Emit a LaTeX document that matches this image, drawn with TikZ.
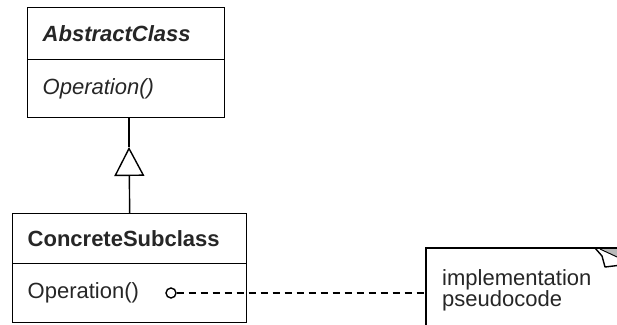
\documentclass[tikz,border=0pt]{standalone}
\usepackage{fontspec}
\setmainfont{Liberation Sans}
\usetikzlibrary{arrows.meta}
\begin{document}
\begin{tikzpicture}[x=1pt,y=-1pt,
  umlline/.style={line width=1.4pt, black},
  compart/.style={draw, umlline, anchor=north west, inner xsep=15pt, inner ysep=0pt,
    align=left, font=\fontsize{22}{26}\selectfont, text=black!85},
  dashline/.style={umlline, dash pattern=on 7pt off 5pt}]
  \useasboundingbox (0,0) rectangle (617,324);
  \clip (0,0) rectangle (617,324);
  % abstract class
  \node[compart, minimum width=197pt, minimum height=52pt, text width=167pt]
    (an) at (27,7) {\textbf{\textit{AbstractClass}}};
  \node[compart, minimum width=197pt, minimum height=58pt, text width=167pt]
    (ao) at (27,59) {\textit{Operation()}};
  % concrete subclass
  \node[compart, minimum width=234pt, minimum height=50pt, text width=204pt]
    (cn) at (12,213) {\textbf{ConcreteSubclass}};
  \node[compart, minimum width=234pt, minimum height=59pt, text width=204pt]
    (co) at (12,263) {Operation()};
  % inheritance
  \coordinate (apex) at (129,147);
  \draw[umlline, -{Triangle[open, length=29pt, width=30pt, line width=1.4pt]}] (cn.north) -- (apex);
  \draw[umlline] (apex) -- (ao.south -| apex);
  % note with folded corner
  \node[anchor=north west, minimum width=199pt, minimum height=100pt, inner sep=0pt] (note) at (426,248) {};
  \fill[gray!55] (600,248) -- (630,248) -- (630,263) -- cycle;
  \draw[line width=1pt] (600,249) -- (630,263);
  \draw[umlline] (note.south west) -- (note.north west) -- (note.north east);
  \draw[umlline, line join=round] (595,248) -- (602,256) -- (605,267) -- (630,264);
  \node[anchor=north west, inner sep=0pt, align=left, text=black!85,
    font=\fontsize{22}{20}\selectfont] (nt) at (442,269) {implementation\\pseudocode};
  % link from operation to note
  \node[draw, umlline, circle, minimum size=10pt, inner sep=0pt] (circ) at (171,293) {};
  \draw[dashline] (circ.east) -- (circ -| note.west);
\end{tikzpicture}
\end{document}
